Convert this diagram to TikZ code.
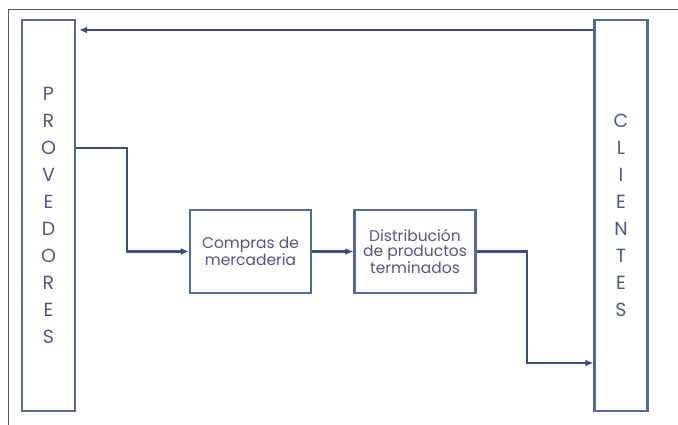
\documentclass[tikz,border=0pt]{standalone}
\usepackage{fontspec}
\setmainfont{Poppins}
\usetikzlibrary{arrows.meta,calc}
\definecolor{linec}{HTML}{3B4E7D}
\definecolor{boxc}{HTML}{56679B}
\definecolor{txtc}{HTML}{4F5888}
\begin{document}
\begin{tikzpicture}[x=1pt,y=-1pt,line width=2.2pt,
  flow/.style={draw=linec,-{Latex[length=8pt,width=7pt]}},
  sidebox/.style={draw=boxc,minimum width=53pt,minimum height=391pt,inner sep=0pt,
    align=center,text=txtc,font=\fontsize{19}{27}\selectfont},
  stepbox/.style={draw=boxc,minimum width=121pt,minimum height=83pt,inner sep=2pt,
    align=center,text=txtc,font=\fontsize{15.5}{14.5}\selectfont}]
  \useasboundingbox (0,0) rectangle (678,425);
  % outer frame
  \draw[gray!70!black,line width=1pt] (8,425) -- (8,10) -- (678,10);
  % side columns
  \node[sidebox] (PRO) at (48.5,215.5) {P\\R\\O\\V\\E\\D\\O\\R\\E\\S};
  \node[sidebox] (CLI) at (621,215.5) {C\\L\\I\\E\\N\\T\\E\\S};
  % process boxes
  \node[stepbox] (COM) at (250.5,251.5) {Compras de\\mercaderia};
  \node[stepbox] (DIS) at (415,251.5) {Distribución\\de productos\\terminados};
  % connectors
  \coordinate (k0) at (0,30);
  \coordinate (k1) at (127,148);
  \coordinate (k2) at (527,363);
  \draw[flow,shorten >=3pt] (CLI.west |- k0) -- (PRO.east |- k0);
  \draw[flow] (PRO.east |- k1) -- (k1) |- (COM.west);
  \draw[flow] (COM) -- (DIS);
  \draw[flow] (DIS.east) -| (k2) -- (CLI.west |- k2);
\end{tikzpicture}
\end{document}
